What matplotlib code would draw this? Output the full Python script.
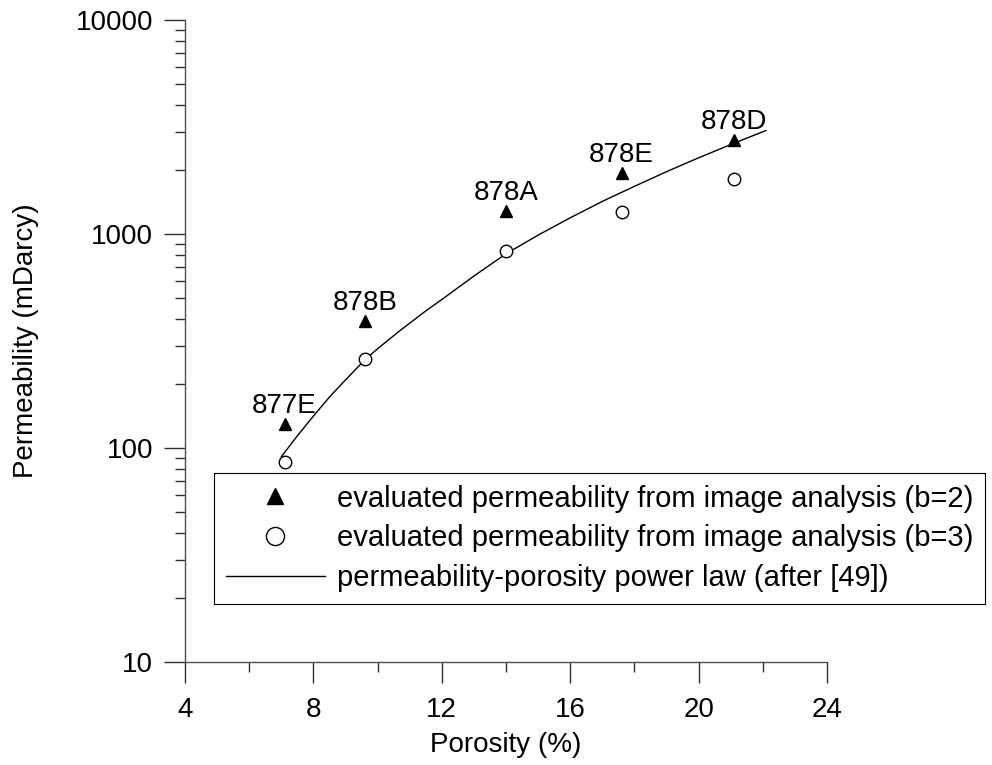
import numpy as np
import matplotlib.pyplot as plt
from matplotlib.ticker import MultipleLocator, LogLocator, FixedLocator

plt.rcParams['font.family'] = ['Liberation Sans', 'DejaVu Sans']

# Samples
samples  = ['877E', '878B', '878A', '878E', '878D']
porosity = [7.1, 9.6, 14.0, 17.6, 21.1]
perm_b2  = [129, 392, 1280, 1930, 2750]
perm_b3  = [86, 261, 836, 1270, 1807]

# Power law curve
law_phi = [7.0, 7.5, 8.0, 8.5, 9.0, 9.6, 10.0, 10.7, 11.5, 12.0, 13.0,
           14.0, 15.0, 16.0, 17.0, 18.0, 19.0, 20.0, 21.1, 22.1]
law_k   = [91, 114, 141, 173, 208, 258, 291, 354, 437, 494, 636,
           808, 988, 1190, 1420, 1670, 1955, 2270, 2655, 3045]

fs = 20

fig = plt.figure(figsize=(9.92, 7.65), dpi=100)
ax = fig.add_axes([185/992, 1 - 662/765, 642/992, 642/765])

ax.plot(law_phi, law_k, color='black', linewidth=1.0,
        label='permeability-porosity power law (after [49])')
ax.plot(porosity, perm_b2, linestyle='none', marker='^', color='black',
        markersize=8, label='evaluated permeability from image analysis (b=2)')
ax.plot(porosity, perm_b3, linestyle='none', marker='o', markerfacecolor='white',
        markeredgecolor='black', markeredgewidth=1.0, markersize=9,
        label='evaluated permeability from image analysis (b=3)')

for name, x, y in zip(samples, porosity, perm_b2):
    ax.annotate(name, (x, y), xytext=(0, 8), textcoords='offset points',
                ha='center', va='baseline', fontsize=fs)

ax.set_yscale('log')
ax.set_xlim(4, 24)
ax.set_ylim(10, 10000)
ax.xaxis.set_major_locator(MultipleLocator(4))
ax.xaxis.set_minor_locator(MultipleLocator(2))
ax.yaxis.set_major_locator(FixedLocator([10, 100, 1000, 10000]))
ax.yaxis.set_minor_locator(LogLocator(base=10, subs=np.arange(2, 10)))
ax.set_yticklabels(['10', '100', '1000', '10000'])

for side in ['top', 'right']:
    ax.spines[side].set_visible(False)
for side in ['left', 'bottom']:
    ax.spines[side].set_color('#505050')
    ax.spines[side].set_linewidth(1.0)

ax.tick_params(which='major', direction='out', length=15, width=1.0,
               color='#303030', labelsize=fs, pad=8)
ax.tick_params(which='minor', direction='out', length=7.5, width=1.0, color='#303030')
ax.tick_params(axis='x', which='major', pad=10)

ax.set_xlabel('Porosity (%)', fontsize=fs, labelpad=7)
ax.set_ylabel('Permeability (mDarcy)', fontsize=fs, labelpad=26)

handles, labels = ax.get_legend_handles_labels()
order = [1, 2, 0]
leg = ax.legend([handles[i] for i in order], [labels[i] for i in order],
                loc='upper left', bbox_to_anchor=(214/992, 1 - 473/765),
                bbox_transform=fig.transFigure, borderaxespad=0,
                fontsize=21, handlelength=3.4, handletextpad=0.42,
                labelspacing=0.4, borderpad=0.4, markerscale=1.45,
                fancybox=False, framealpha=1, edgecolor='black')
leg.get_frame().set_linewidth(0.8)

fig.savefig('out.png', dpi=100)
